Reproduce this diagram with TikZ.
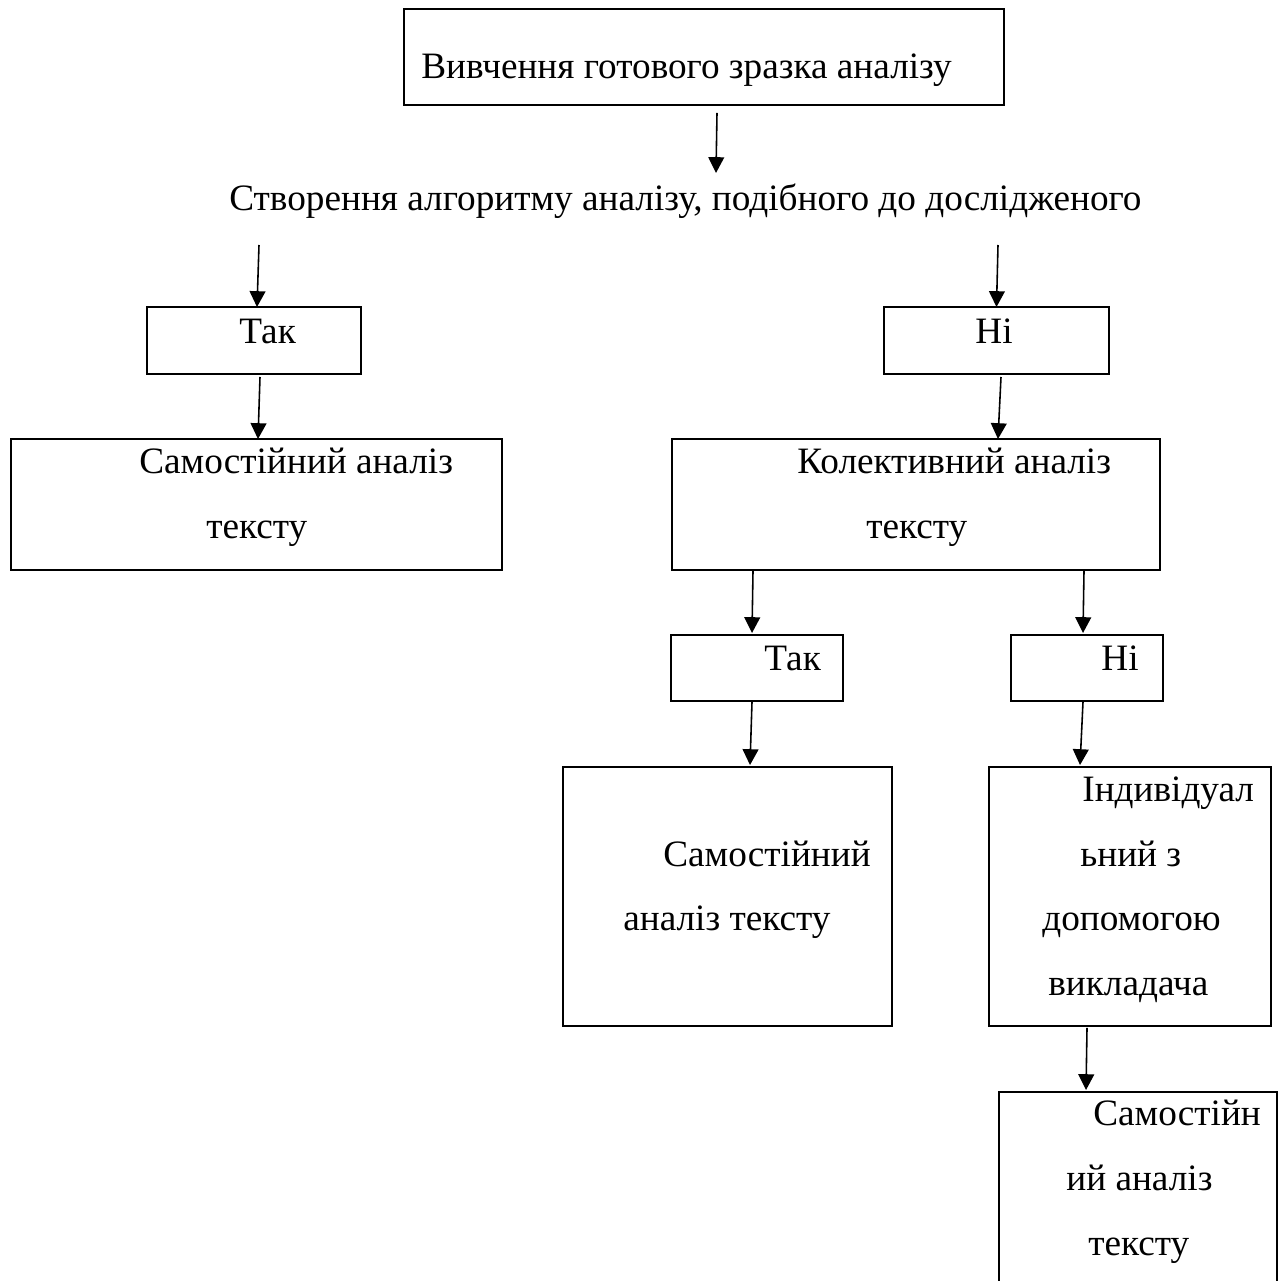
\documentclass[tikz,border=0pt]{standalone}
\usepackage{fontspec}
\setmainfont{Liberation Serif}
\usepackage{tikz}
\usetikzlibrary{arrows.meta}
\usetikzlibrary{positioning}
\tikzset{box/.style = {draw, line width = 1.1pt, inner sep = 0, outer sep = 0}}
\tikzset{txt/.style = {anchor = base west, inner sep = 0, font = \fontsize{21.2pt}{25pt}\selectfont}}
\tikzset{arr/.style = {line width = 0.9pt, -{Triangle[length = 9pt, width = 9pt]}}}

\begin{document}
\begin{tikzpicture}[x = 0.02cm, y = -0.02cm]
      \useasboundingbox (0, 0) rectangle (1281, 1281);

      % boxes
      \node [box, minimum width = 12cm, minimum height = 1.92cm] (study) at (704, 57) {};
      \node [box, minimum width = 4.28cm, minimum height = 1.34cm] (yes1) at (254, 340.5) {};
      \node [box, minimum width = 4.5cm, minimum height = 1.34cm] (no1) at (996.5, 340.5) {};
      \node [box, minimum width = 9.82cm, minimum height = 2.62cm] (self1) at (256.5, 504.5) {};
      \node [box, minimum width = 9.76cm, minimum height = 2.62cm] (group) at (916, 504.5) {};
      \node [box, minimum width = 3.44cm, minimum height = 1.32cm] (yes2) at (757, 668) {};
      \node [box, minimum width = 3.04cm, minimum height = 1.32cm] (no2) at (1087, 668) {};
      \node [box, minimum width = 6.58cm, minimum height = 5.18cm] (self2) at (727.5, 896.5) {};
      \node [box, minimum width = 5.64cm, minimum height = 5.18cm] (indiv) at (1130, 896.5) {};
      \node [box, minimum width = 5.56cm, minimum height = 4.36cm] (self3) at (1138, 1201) {};

      % texts
      \node [txt] (studytxt) at (421, 78) {Вивчення готового зразка аналізу};
      \node [txt] (plan) at (229, 210) {Створення алгоритму аналізу, подібного до дослідженого};
      \node [txt] (yes1txt) at (239, 343) {Так};
      \node [txt] (no1txt) at (975, 343) {Ні};
      \node [txt] (self1a) at (139, 473) {Самостійний аналіз};
      \node [txt] (self1b) at (206, 538) {тексту};
      \node [txt] (groupa) at (797, 473) {Колективний аналіз};
      \node [txt] (groupb) at (866, 538) {тексту};
      \node [txt] (yes2txt) at (764, 670) {Так};
      \node [txt] (no2txt) at (1101, 670) {Ні};
      \node [txt] (self2a) at (663, 866) {Самостійний};
      \node [txt] (self2b) at (623, 930) {аналіз тексту};
      \node [txt] (indiva) at (1082, 801) {Індивідуал};
      \node [txt] (indivb) at (1080, 866) {ьний з};
      \node [txt] (indivc) at (1042, 930) {допомогою};
      \node [txt] (indivd) at (1048, 995) {викладача};
      \node [txt] (self3a) at (1093, 1125) {Самостійн};
      \node [txt] (self3b) at (1066, 1190) {ий аналіз};
      \node [txt] (self3c) at (1088, 1255) {тексту};

      % arrows
      \draw [arr] ([xshift = 0.26cm, yshift = -0.16cm]study.south) -- ([xshift = 0.24cm, yshift = 0.2cm]study.south |- plan.north);
      \draw [arr] ([xshift = 0.1cm, yshift = -0.7cm]plan.base -| yes1.north) -- ([xshift = 0.06cm]yes1.north);
      \draw [arr] ([xshift = 0.03cm, yshift = -0.7cm]plan.base -| no1.north) -- (no1.north);
      \draw [arr] ([xshift = 0.12cm, yshift = -0.06cm]yes1.south) -- ([xshift = 0.03cm]self1.north);
      \draw [arr] ([xshift = 0.09cm, yshift = -0.06cm]no1.south) -- ([xshift = 1.64cm]group.north);
      \draw [arr] ([xshift = -0.08cm, yshift = -0.02cm]group.south -| yes2.north) -- ([xshift = -0.1cm, yshift = 0.04cm]yes2.north);
      \draw [arr] ([xshift = -0.06cm, yshift = -0.02cm]group.south -| no2.north) -- ([xshift = -0.08cm, yshift = 0.04cm]no2.north);
      \draw [arr] ([xshift = -0.1cm, yshift = -0.02cm]yes2.south) -- ([xshift = 0.45cm, yshift = 0.04cm]self2.north);
      \draw [arr] ([xshift = -0.08cm, yshift = -0.02cm]no2.south) -- ([xshift = -1cm, yshift = 0.04cm]indiv.north);
      \draw [arr] ([xshift = -0.86cm, yshift = -0.04cm]indiv.south) -- ([xshift = -1.04cm, yshift = 0.04cm]self3.north);
    \end{tikzpicture}
\end{document}
